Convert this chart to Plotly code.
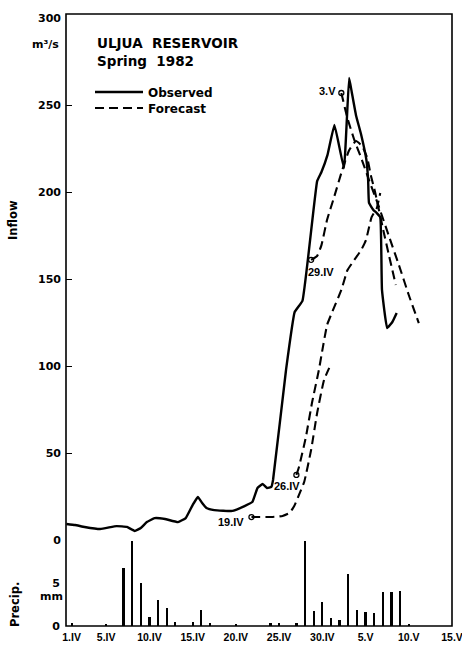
import plotly.graph_objects as go

# ---------------- data ----------------
# day index: 1 = 1 April, 31 = 1 May
tick_days = [1, 5, 10, 15, 20, 25, 30, 35, 40, 45]
tick_text = ["1.IV", "5.IV", "10.IV", "15.IV", "20.IV", "25.IV", "30.IV", "5.V", "10.V", "15.V"]

obs_days = [0.4, 1.4, 2.5, 4.3, 6.2, 7.4, 8.3, 9.0, 9.7, 10.6, 11.8, 13.3, 14.2, 15.0, 15.6,
            16.1, 16.6, 17.5, 19.6, 21.0, 21.9, 22.5, 23.1, 23.6, 24.1, 24.3, 25.8, 26.8, 27.7,
            29.4, 29.9, 30.6, 31.4, 32.5, 33.1, 33.4, 33.9, 34.5, 35.1, 35.3, 35.4, 35.9, 36.3,
            36.7, 36.9, 37.5, 38.1, 38.6]
obs_flow = [9.2, 8.6, 7.5, 6.3, 8.0, 7.5, 5.2, 6.9, 10.3, 12.6, 12.1, 10.3, 12.6, 20.1, 24.7,
            21.3, 18.4, 17.2, 16.7, 19.5, 21.8, 29.9, 32.2, 29.9, 30.5, 34.5, 97.7, 131.0, 137.4,
            206.3, 211.5, 221.3, 238.5, 213.8, 265.5, 257.5, 244.0, 232.8, 218.4, 206.9, 193.7,
            189.7, 187.9, 185.6, 143.7, 121.8, 125.3, 130.5]

f19_days = [21.8, 22.7, 24.1, 25.4, 26.2, 26.75, 27.3, 27.9, 28.7, 29.4, 30.2, 30.8]
f19_flow = [13.2, 13.2, 13.2, 13.8, 15.5, 19.5, 25.9, 33.3, 51.7, 73.0, 92.0, 98.9]

f26_days = [27.0, 27.3, 28.1, 28.8, 29.6, 30.0, 30.55, 31.1, 32.2, 32.9, 33.7, 34.5, 35.05, 35.7, 36.3, 36.7]
f26_flow = [37.4, 42.0, 59.2, 78.7, 97.7, 109.0, 123.6, 130.5, 143.7, 155.0, 161.0, 166.7, 172.4, 185.6, 190.8, 199.4]

f29_days = [28.7, 29.4, 29.9, 30.55, 31.36, 32.3, 33.1, 33.9, 34.6, 35.2, 35.6, 36.1, 36.55, 37.1, 37.7, 38.5]
f29_flow = [161.0, 163.2, 169.5, 184.0, 197.0, 212.6, 224.0, 229.3, 226.4, 219.5, 209.8, 200.0, 189.7, 177.0, 163.8, 146.5]

f3v_days = [32.2, 32.9, 33.7, 34.5, 35.4, 36.55, 37.7, 38.86, 40.0, 41.16]
f3v_flow = [256.9, 242.5, 229.9, 219.5, 206.9, 191.4, 174.7, 158.0, 140.8, 124.7]

forecast_labels = ["19.IV", "26.IV", "29.IV", "3.V"]

precip_days = [1, 5, 7, 8, 9, 10, 11, 12, 13, 15, 16, 17, 20, 24, 25, 27, 28, 29, 30, 31, 32,
               33, 34, 35, 36, 37, 38, 39, 40]
precip_mm = [0.3, 0.2, 6.7, 9.9, 5.0, 1.0, 3.0, 2.1, 0.5, 0.5, 1.9, 0.4, 0.2, 0.3, 0.3, 0.4, 9.9,
             1.7, 2.8, 0.9, 0.7, 6.0, 1.9, 1.6, 1.5, 3.9, 3.9, 4.1, 0.2]

inflow_ticks = [0, 50, 100, 150, 200, 250, 300]
precip_ticks = [0, 5]

# ---------------- figure ----------------
FONT = "DejaVu Sans"
BLK = "black"
fig = go.Figure()

fig.add_trace(go.Scatter(x=obs_days, y=obs_flow, mode="lines", name="Observed", legend="legend",
                         line=dict(color=BLK, width=2.4, shape="spline", smoothing=0.3),
                         xaxis="x", yaxis="y"))

forecasts = [(f19_days, f19_flow), (f26_days, f26_flow), (f29_days, f29_flow), (f3v_days, f3v_flow)]
for i, (d, f) in enumerate(forecasts):
    fig.add_trace(go.Scatter(x=d, y=f, mode="lines", name="Forecast", legend="legend2",
                             legendgroup="fc", showlegend=(i == 0),
                             line=dict(color=BLK, width=2.1, dash="9px,5px", shape="spline", smoothing=0.4),
                             xaxis="x", yaxis="y"))

fig.add_trace(go.Scatter(x=[d[0] for d, f in forecasts], y=[f[0] for d, f in forecasts],
                         mode="markers", showlegend=False,
                         marker=dict(symbol="circle-open", size=5, color=BLK, line=dict(width=1.3)),
                         xaxis="x", yaxis="y"))

fig.add_trace(go.Bar(x=precip_days, y=precip_mm, width=0.26, marker=dict(color=BLK, line=dict(width=0)),
                     showlegend=False, xaxis="x", yaxis="y2"))

label_shift = [(-20, -5), (-9, -11), (10, -12), (-14, 2)]
for (d, f), lab, (dx, dy) in zip(forecasts, forecast_labels, label_shift):
    fig.add_annotation(x=d[0], y=f[0], xref="x", yref="y", text=lab, showarrow=False,
                       xshift=dx, yshift=dy, xanchor="center", yanchor="middle",
                       font=dict(family="Liberation Sans", size=11, color=BLK, weight="bold"))

# plot area: x 66..452, y 14..626 in page pixels
split = 86 / 612
leg_font = dict(family=FONT, size=12, color=BLK, weight="bold")
fig.update_layout(
    width=462, height=649,
    margin=dict(l=66, r=10, t=14, b=23, autoexpand=False),
    paper_bgcolor="white", plot_bgcolor="white",
    font=dict(family=FONT, color=BLK),
    bargap=0,
    xaxis=dict(range=[0.35, 45], anchor="y2", tickmode="array", tickvals=tick_days, ticktext=tick_text,
               showgrid=False, zeroline=False, showline=False, ticks="", ticklabelstandoff=3,
               ticklabeloverflow="allow", automargin=False,
               tickfont=dict(family="Liberation Sans", size=10.5, color=BLK, weight="bold")),
    yaxis=dict(domain=[split, 608 / 612], range=[0, 300], anchor="x", automargin=False,
               tickmode="array", tickvals=inflow_ticks, showgrid=False, zeroline=False,
               showline=False, ticks="inside", ticklen=6, tickwidth=1.2, tickcolor=BLK,
               ticklabelstandoff=4,
               tickfont=dict(family=FONT, size=11, color=BLK, weight="bold")),
    yaxis2=dict(domain=[0, split], range=[0, 10], anchor="x", automargin=False,
                tickmode="array", tickvals=precip_ticks, showgrid=False, zeroline=False,
                showline=False, ticks="", ticklabelstandoff=5,
                tickfont=dict(family=FONT, size=11, color=BLK, weight="bold")),
    legend=dict(x=(90 - 66) / 386, y=(626 - 92) / 612, xanchor="left", yanchor="middle",
                bgcolor="rgba(0,0,0,0)", font=leg_font, itemwidth=48),
    legend2=dict(x=(90 - 66) / 386, y=(626 - 108) / 612, xanchor="left", yanchor="middle",
                 bgcolor="rgba(0,0,0,0)", font=leg_font, itemwidth=48),
    shapes=[dict(type="rect", xref="paper", yref="paper", x0=0, x1=1, y0=0, y1=1,
                 line=dict(color=BLK, width=1.6), fillcolor="rgba(0,0,0,0)", layer="above")],
)

txt = dict(showarrow=False, xref="paper", yref="paper")
fig.add_annotation(x=(95 - 66) / 386, y=(626 - 43) / 612, text="ULJUA  RESERVOIR",
                   xanchor="left", yanchor="middle",
                   font=dict(family=FONT, size=13.5, color=BLK, weight="bold"), **txt)
fig.add_annotation(x=(95 - 66) / 386, y=(626 - 61) / 612, text="Spring  1982",
                   xanchor="left", yanchor="middle",
                   font=dict(family=FONT, size=13.5, color=BLK, weight="bold"), **txt)
fig.add_annotation(x=(45 - 66) / 386, y=(626 - 44) / 612, text="m³/s",
                   xanchor="center", yanchor="middle",
                   font=dict(family=FONT, size=11, color=BLK, weight="bold"), **txt)
fig.add_annotation(x=(51 - 66) / 386, y=(626 - 596) / 612, text="mm",
                   xanchor="center", yanchor="middle",
                   font=dict(family=FONT, size=11, color=BLK, weight="bold"), **txt)
fig.add_annotation(x=(13 - 66) / 386, y=(626 - 220) / 612, text="Inflow", textangle=-90,
                   xanchor="center", yanchor="middle",
                   font=dict(family=FONT, size=11.5, color=BLK, weight="bold"), **txt)
fig.add_annotation(x=(15 - 66) / 386, y=(626 - 605) / 612, text="Precip.", textangle=-90,
                   xanchor="center", yanchor="middle",
                   font=dict(family=FONT, size=11.5, color=BLK, weight="bold"), **txt)

fig.write_html("out.html", config={"displayModeBar": False},
               post_script="document.body.style.margin='0px';document.body.style.overflow='hidden';")
